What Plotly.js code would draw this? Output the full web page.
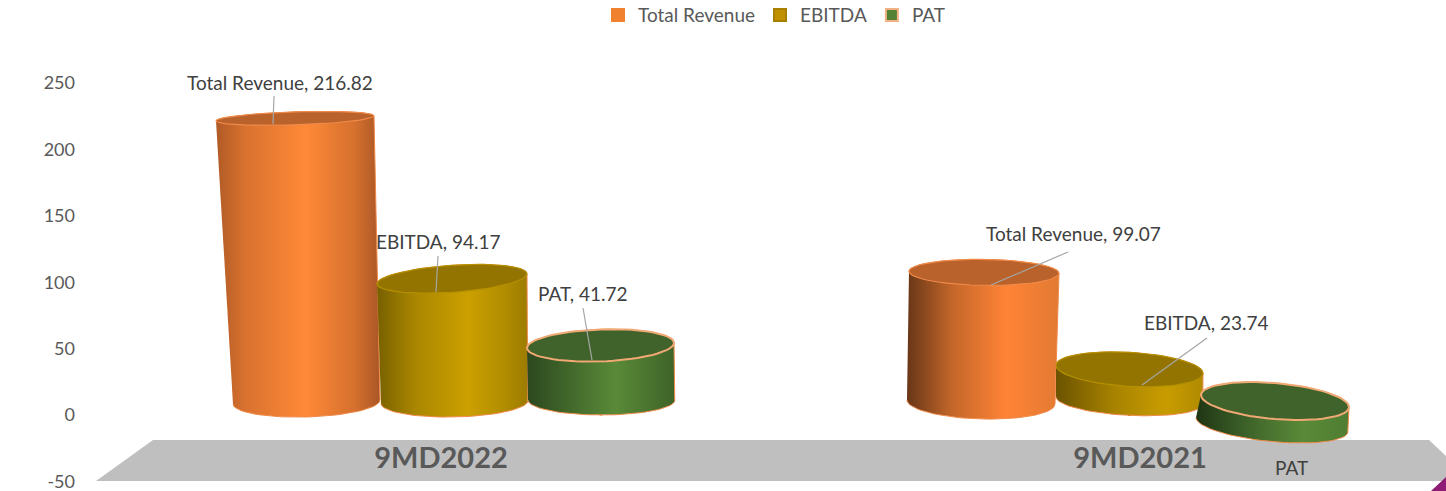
<!DOCTYPE html>
<html>
<head>
<meta charset="utf-8">
<script src="https://cdn.plot.ly/plotly-3.0.1.min.js"></script>
<style>html,body{margin:0;padding:0;background:#fff}#c{width:1446px;height:491px}</style>
</head>
<body>
<div id="c"></div>
<script>
// ---- data ----
const categories = ["9MD2022", "9MD2021"];
const seriesNames = ["Total Revenue", "EBITDA", "PAT"];
const totalRevenue = [216.82, 99.07];
const ebitda = [94.17, 23.74];
const pat = [41.72, -18];
const yTicks = [-50, 0, 50, 100, 150, 200, 250];
const yTickLabels = ["-50", "0", "50", "100", "150", "200", "250"];
const labelTexts = [
  ["Total Revenue, 216.82", "EBITDA, 94.17", "PAT, 41.72"],
  ["Total Revenue, 99.07", "EBITDA, 23.74", "PAT"]
];

// ---- pseudo-3D geometry, in px of the page ----
const W = 1446, H = 491, ML = 80;
const PXU = 1.328, ZERO = 415;                // px per unit, px row of y = 0
const toY = px => (ZERO - px) / PXU;
const categoryX = [441, 1140];
const depthScale = 0.985;
const geo = [
 [ {lift:9.8, t:{cx:295,rx:79,ry:6.5,tilt:-2.5}, b:{cx:306.5,rx:73.5,ry:15,tilt:-2},
    tip:[273,124], from:[274,96], lab:[280,82]},
   {lift:9.8, t:{cx:452,rx:75,ry:13.5,tilt:-5}, b:{cx:454.5,rx:73.5,ry:15,tilt:-1.5},
    tip:[436,292], from:[438,256], lab:[438,241]},
   {lift:11.3, t:{cx:600.5,rx:73.5,ry:16,tilt:-2.5}, b:{cx:601.5,rx:73.5,ry:15,tilt:0},
    tip:[592,360], from:[583,308], lab:[583,293]} ],
 [ {lift:9.8, t:{cx:984,rx:75,ry:13,tilt:1}, b:{cx:981,rx:74,ry:17,tilt:2},
    tip:[991,285], from:[1068,252], lab:[1073,233]},
   {lift:11, t:{cx:1129.5,rx:73.5,ry:17,tilt:4}, b:{cx:1129.5,rx:73.5,ry:15,tilt:3.5},
    tip:[1142,385], from:[1207,338], lab:[1206,322]},
   {lift:10.5, t:{cx:1275,rx:74,ry:18,tilt:6}, b:{cx:1272,rx:76,ry:17,tilt:7},
    lab:[1291,467]} ]
];
const seriesColor = ["#F0812F", "#BF9000", "#548235"];
const swatchLine = ["#F0812F", "#A88000", "#F4B183"];
const topColor = ["#B9622B", "#937400", "#3F632A"];
const rimColor = ["#F08A4A", "#B59000", "#F0A874"];
const grads = [
 [ [[0,"#B05A26"],[0.18,"#D9722F"],[0.55,"#FF8937"],[0.85,"#D4702E"],[1,"#A95626"]],
   [[0,"#786000"],[0.25,"#A98600"],[0.6,"#CCA000"],[0.85,"#B08C00"],[1,"#9C7C00"]],
   [[0,"#2C481F"],[0.3,"#42692B"],[0.6,"#5A8A38"],[0.85,"#48712E"],[1,"#3E6328"]] ],
 [ [[0,"#683617"],[0.3,"#C4672A"],[0.65,"#FF8335"],[1,"#E27A33"]],
   [[0,"#6B5300"],[0.4,"#A88300"],[0.75,"#C89C00"],[1,"#B08A00"]],
   [[0,"#1F3514"],[0.35,"#3F652A"],[0.7,"#5A8A38"],[1,"#4F7D32"]] ]
];
const seriesValues = [totalRevenue, ebitda, pat];

function ellipsePts(e, cy, a0, a1, n) {
  const xs = [], ys = [];
  for (let i = 0; i <= n; i++) {
    const t = a0 + (a1 - a0) * i / n;
    xs.push(e.cx + e.rx * Math.cos(t));
    ys.push(cy + (e.ry * Math.sin(t) - e.tilt * Math.cos(t)) / PXU);
  }
  return [xs, ys];
}

const traces = [];
// real value bars: narrow and behind the cylinders, they also feed the legend
seriesNames.forEach((name, s) => {
  traces.push({
    type: "bar", name: name,
    x: categories.map((_, c) => (geo[c][s].t.cx + geo[c][s].b.cx) / 2),
    y: seriesValues[s], width: 1,
    marker: {color: seriesColor[s], line: {color: swatchLine[s], width: 2}},
    hovertemplate: name + ": %{y}<extra></extra>"
  });
});

categories.forEach((cat, c) => {
  seriesNames.forEach((name, s) => {
    const v = seriesValues[s][c], g = geo[c][s];
    const upper = Math.max(v, 0), lower = Math.min(v, 0);
    const yTop = g.lift + depthScale * upper, yBot = g.lift + depthScale * lower;
    const [ux, uy] = ellipsePts(g.t, yTop, Math.PI, 0, 30);
    const [lx, ly] = ellipsePts(g.b, yBot, 0, -Math.PI, 40);
    traces.push({
      type: "scatter", mode: "lines", x: ux.concat(lx), y: uy.concat(ly),
      fill: "toself", fillgradient: {type: "horizontal", colorscale: grads[c][s]},
      line: {color: rimColor[0], width: 1}, showlegend: false, hoverinfo: "skip"
    });
    const [tx, ty] = ellipsePts(g.t, yTop, 0, 2 * Math.PI, 72);
    traces.push({
      type: "scatter", mode: "lines", x: tx, y: ty, fill: "toself",
      fillcolor: topColor[s], line: {color: rimColor[s], width: s === 2 ? 2 : 1.2},
      showlegend: false, hoverinfo: "skip"
    });
  });
});

// leader lines
categories.forEach((cat, c) => {
  seriesNames.forEach((name, s) => {
    const g = geo[c][s];
    if (!g.tip) return;
    traces.push({
      type: "scatter", mode: "lines",
      x: [g.from[0], g.tip[0]], y: [toY(g.from[1]), toY(g.tip[1])],
      line: {color: "#A6A6A6", width: 1.2}, showlegend: false, hoverinfo: "skip"
    });
  });
});

const annotations = [];
labelTexts.forEach((row, c) => row.forEach((text, s) => {
  const g = geo[c][s];
  annotations.push({
    x: g.lab[0], y: toY(g.lab[1]), xref: "x", yref: "y", text: text,
    showarrow: false, xanchor: "center", yanchor: "middle",
    font: {family: "Lato, sans-serif", size: 19, color: "#404040"}
  });
}));

const poly = pts => "M" + pts.map(p => p[0] + "," + toY(p[1])).join("L") + "Z";
const shapes = [
  {type: "path", xref: "x", yref: "y", layer: "below", fillcolor: "#BFBFBF",
   line: {width: 0}, path: poly([[96,481],[153,440],[1429,440],[1446,456],[1446,481]])},
  {type: "path", xref: "x", yref: "y", layer: "above", fillcolor: "#8E1B74",
   line: {width: 0}, path: poly([[1446,477],[1431,491],[1446,491]])}
];

const layout = {
  width: W, height: H, margin: {l: ML, r: 0, t: 0, b: 0, pad: 0, autoexpand: false},
  paper_bgcolor: "#fff", plot_bgcolor: "#fff", barmode: "overlay",
  font: {family: "Lato, sans-serif", color: "#595959"},
  showlegend: true,
  legend: {orientation: "h", x: (598 - ML) / (W - ML), xanchor: "left",
           y: 1.008, yanchor: "top", font: {size: 19, color: "#595959"},
           bgcolor: "rgba(0,0,0,0)", traceorder: "normal"},
  xaxis: {range: [ML, W], domain: [0, 1], tickmode: "array", tickvals: categoryX,
          ticktext: categories, showgrid: false, zeroline: false, showline: false,
          ticks: "", ticklabelstandoff: -53, ticklabeloverflow: "allow",
          tickfont: {family: "Lato, sans-serif", size: 29, color: "#595959", weight: "bold"}},
  yaxis: {range: [toY(H), toY(0)], domain: [0, 1], tickmode: "array", tickvals: yTicks,
          ticktext: yTickLabels,
          showgrid: false, zeroline: false, showline: false, ticks: "", ticklabelstandoff: 4,
          ticklabeloverflow: "allow",
          tickfont: {family: "Lato, sans-serif", size: 18, color: "#595959"}},
  shapes: shapes, annotations: annotations
};
Plotly.newPlot("c", traces, layout, {displayModeBar: false});
</script>
</body>
</html>
